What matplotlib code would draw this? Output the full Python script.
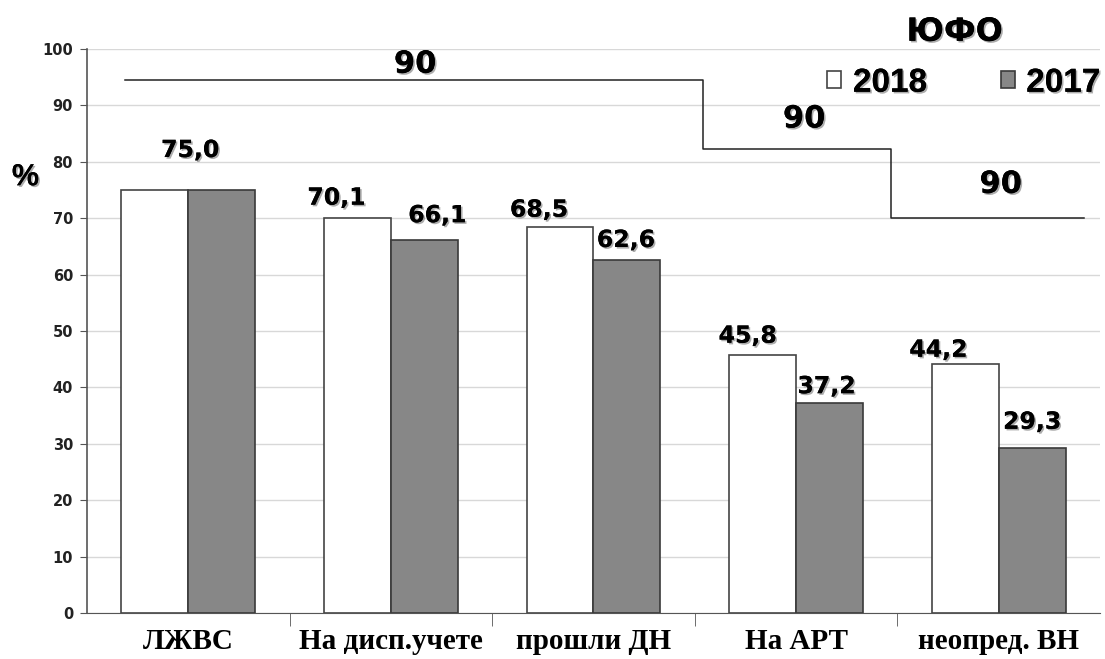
import matplotlib.pyplot as plt
import matplotlib.patheffects as pe
import numpy as np

# categories and values
categories = ['ЛЖВС', 'На дисп.учете', 'прошли ДН', 'На АРТ', 'неопред. ВН']
values_2018 = [75.0, 70.1, 68.5, 45.8, 44.2]
values_2017 = [75.0, 66.1, 62.6, 37.2, 29.3]

# target step line (drawn levels) and its labels
target_edges = [-0.31, 2.54, 3.47, 4.42]
target_levels = [94.5, 82.2, 70.0]
target_labels = ['90', '90', '90']
target_label_pos = [(1.12, 97.3), (3.04, 87.6), (4.01, 76.0)]

# label offsets in pixels (dx, gap above bar)
offsets_2018 = [(0, 0), (-21, 8), (-21, 5), (-15, 7), (-27, 2)]
offsets_2017 = [(0, 0), (13, 13), (-1, 8), (-3, 5), (0, 14)]

shadow = [pe.withSimplePatchShadow(offset=(1.2, -1.2), shadow_rgbFace='#777777', alpha=0.6), pe.Normal()]
num_font = dict(fontsize=17, fontweight='bold', family='DejaVu Sans', path_effects=shadow)

fig = plt.figure(figsize=(11.05, 6.59), dpi=100)
ax = fig.add_axes([0.0787, 0.0698, 0.9168, 0.8558])

x = np.arange(len(categories))
w = 0.33
b18 = ax.bar(x - w / 2, values_2018, w, color='white', edgecolor='#444444', linewidth=1.2, zorder=3)
b17 = ax.bar(x + w / 2, values_2017, w, color='#878787', edgecolor='#3a3a3a', linewidth=1.2, zorder=3)

# value labels
for i in range(len(categories)):
    if values_2018[i] == values_2017[i]:
        ax.annotate(f'{values_2018[i]:.1f}'.replace('.', ','), (x[i], values_2018[i]),
                    xytext=(2, 28), textcoords='offset pixels', ha='center', va='bottom', **num_font)
        continue
    dx, dy = offsets_2018[i]
    ax.annotate(f'{values_2018[i]:.1f}'.replace('.', ','), (x[i] - w / 2, values_2018[i]),
                xytext=(dx, dy), textcoords='offset pixels', ha='center', va='bottom', **num_font)
    dx, dy = offsets_2017[i]
    ax.annotate(f'{values_2017[i]:.1f}'.replace('.', ','), (x[i] + w / 2, values_2017[i]),
                xytext=(dx, dy), textcoords='offset pixels', ha='center', va='bottom', **num_font)

# step target line
sx = [target_edges[0]]
sy = [target_levels[0]]
for j, lv in enumerate(target_levels):
    sx += [target_edges[j + 1]]
    sy += [lv]
    if j + 1 < len(target_levels):
        sx += [target_edges[j + 1]]
        sy += [target_levels[j + 1]]
ax.plot(sx, sy, color='#222222', linewidth=1.1, zorder=4)
for lab, (tx, ty) in zip(target_labels, target_label_pos):
    ax.text(tx, ty, lab, ha='center', va='center', fontsize=22, fontweight='bold',
            family='DejaVu Sans', path_effects=shadow)

ax.set_xlim(-0.5, 4.5)
ax.set_ylim(0, 100)
ax.set_yticks(range(0, 101, 10))
ax.yaxis.grid(True, color='#d8d8d8', linewidth=1)
ax.set_axisbelow(True)
for s in ['top', 'right']:
    ax.spines[s].set_visible(False)
ax.spines['left'].set_color('#555555')
ax.spines['bottom'].set_color('#555555')
ax.spines['left'].set_linewidth(1.2)
ax.tick_params(axis='y', length=5, color='#555555', labelsize=10.5, pad=5)
for t in ax.get_yticklabels():
    t.set_fontweight('bold')
    t.set_family('DejaVu Sans')
    t.set_color('#222222')

ax.set_xticks(x)
ax.set_xticklabels(categories, fontsize=21, fontweight='bold', family='Liberation Serif')
ax.tick_params(axis='x', length=0, pad=11)
ax.set_xticks(np.arange(0.5, 4.5, 1), minor=True)
ax.tick_params(axis='x', which='minor', length=9, color='#555555')

fig.text(0.023, 0.731, '%', fontsize=22, fontweight='bold', family='Liberation Sans',
         ha='center', va='center', path_effects=shadow)
fig.text(0.864, 0.951, 'ЮФО', fontsize=23, fontweight='bold', family='DejaVu Sans',
         ha='center', va='center', path_effects=shadow)

leg = ax.legend([b18, b17], ['2018', '2017'], ncol=2, loc='upper right',
                bbox_to_anchor=(1.03, 1.02), frameon=False, handlelength=0.42,
                handleheight=0.42, handletextpad=0.35, columnspacing=2.2,
                prop={'family': 'Liberation Sans', 'weight': 'bold', 'size': 24})
for t in leg.get_texts():
    t.set_path_effects(shadow)

fig.savefig('out.png', dpi=100)
